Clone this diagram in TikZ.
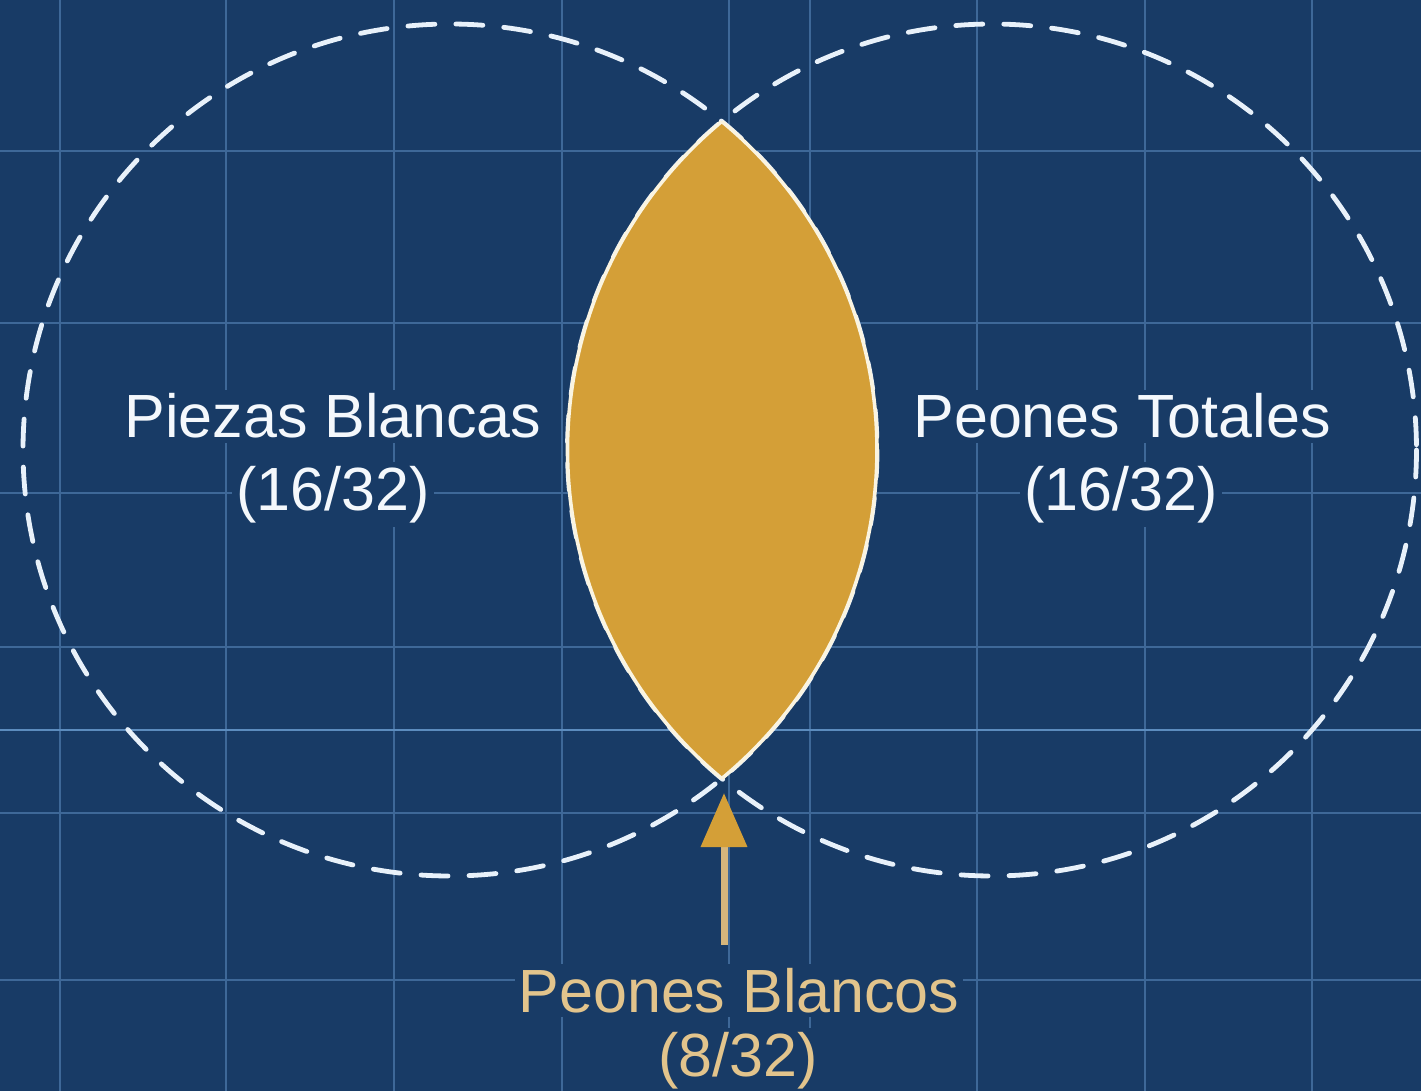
\documentclass[tikz,border=0pt]{standalone}
\usepackage{fontspec}
\setmainfont{Liberation Sans}
\usetikzlibrary{arrows.meta}
\definecolor{bg}{RGB}{24,59,102}
\definecolor{gridc}{RGB}{62,104,152}
\definecolor{gridb}{RGB}{92,140,190}
\definecolor{dashc}{RGB}{232,241,250}
\definecolor{gold}{RGB}{212,159,55}
\definecolor{cream}{RGB}{250,244,225}
\definecolor{tanc}{RGB}{226,196,140}
\definecolor{shaftc}{RGB}{214,182,124}
\definecolor{labelc}{RGB}{244,248,252}
\begin{document}
\begin{tikzpicture}[x=0.5pt,y=-0.5pt,
  gridline/.style={draw=gridc, line width=1pt},
  gridbright/.style={draw=gridb, line width=1.3pt},
  setline/.style={draw=dashc, line width=2.4pt, dash pattern=on 13.5pt off 10.5pt, line cap=round},
  lensline/.style={draw=cream, line width=1.8pt},
  lbl/.style={font=\fontsize{30.5}{36}\selectfont, text=labelc, fill=bg, inner sep=2pt, anchor=base},
  lblgold/.style={lbl, text=tanc},
  shaft/.style={draw=shaftc, line width=3.5pt}
]
\useasboundingbox (0,0) rectangle (1421,1091);
\fill[bg] (0,0) rectangle (1421,1091);
% grid
\foreach \gx in {60,226,394,562,729,810,977,1145,1312} \draw[gridline] (\gx,0) -- (\gx,1091);
\foreach \gy in {151,323,493,647,813,980} \draw[gridline] (0,\gy) -- (1421,\gy);
\draw[gridbright] (0,730) -- (1421,730);
% sets
\coordinate (lc) at (450,450);
\coordinate (rc) at (992,450);
\draw[setline] (lc) ellipse [x radius=427, y radius=426];
\draw[setline] (rc) ellipse [x radius=424.5, y radius=426];
% intersection lens
\begin{scope}
  \clip (lc) ellipse [x radius=427, y radius=426];
  \fill[gold] (rc) ellipse [x radius=424.5, y radius=426];
  \draw[lensline] (rc) ellipse [x radius=424.5, y radius=426];
\end{scope}
\begin{scope}
  \clip (rc) ellipse [x radius=424.5, y radius=426];
  \draw[lensline] (lc) ellipse [x radius=427, y radius=426];
\end{scope}
% labels
\node[lbl] (piezas) at (333,438) {Piezas Blancas};
\node[lbl] (piezasfrac) at (333,510) {(16/32)};
\node[lbl] (totales) at (1122,438) {Peones Totales};
\node[lbl] (totalesfrac) at (1121,510) {(16/32)};
\node[lblgold] (blancos) at (739,1012) {Peones Blancos};
\node[lblgold] (blancosfrac) at (738,1076) {(8/32)};
% arrow
\coordinate (arrowtail) at (724,945);
\coordinate (arrowtip) at (724,793);
\draw[shaft, -{Triangle[length=27pt, width=22.5pt, color=gold]}] (arrowtail) -- (arrowtip);
\end{tikzpicture}
\end{document}
